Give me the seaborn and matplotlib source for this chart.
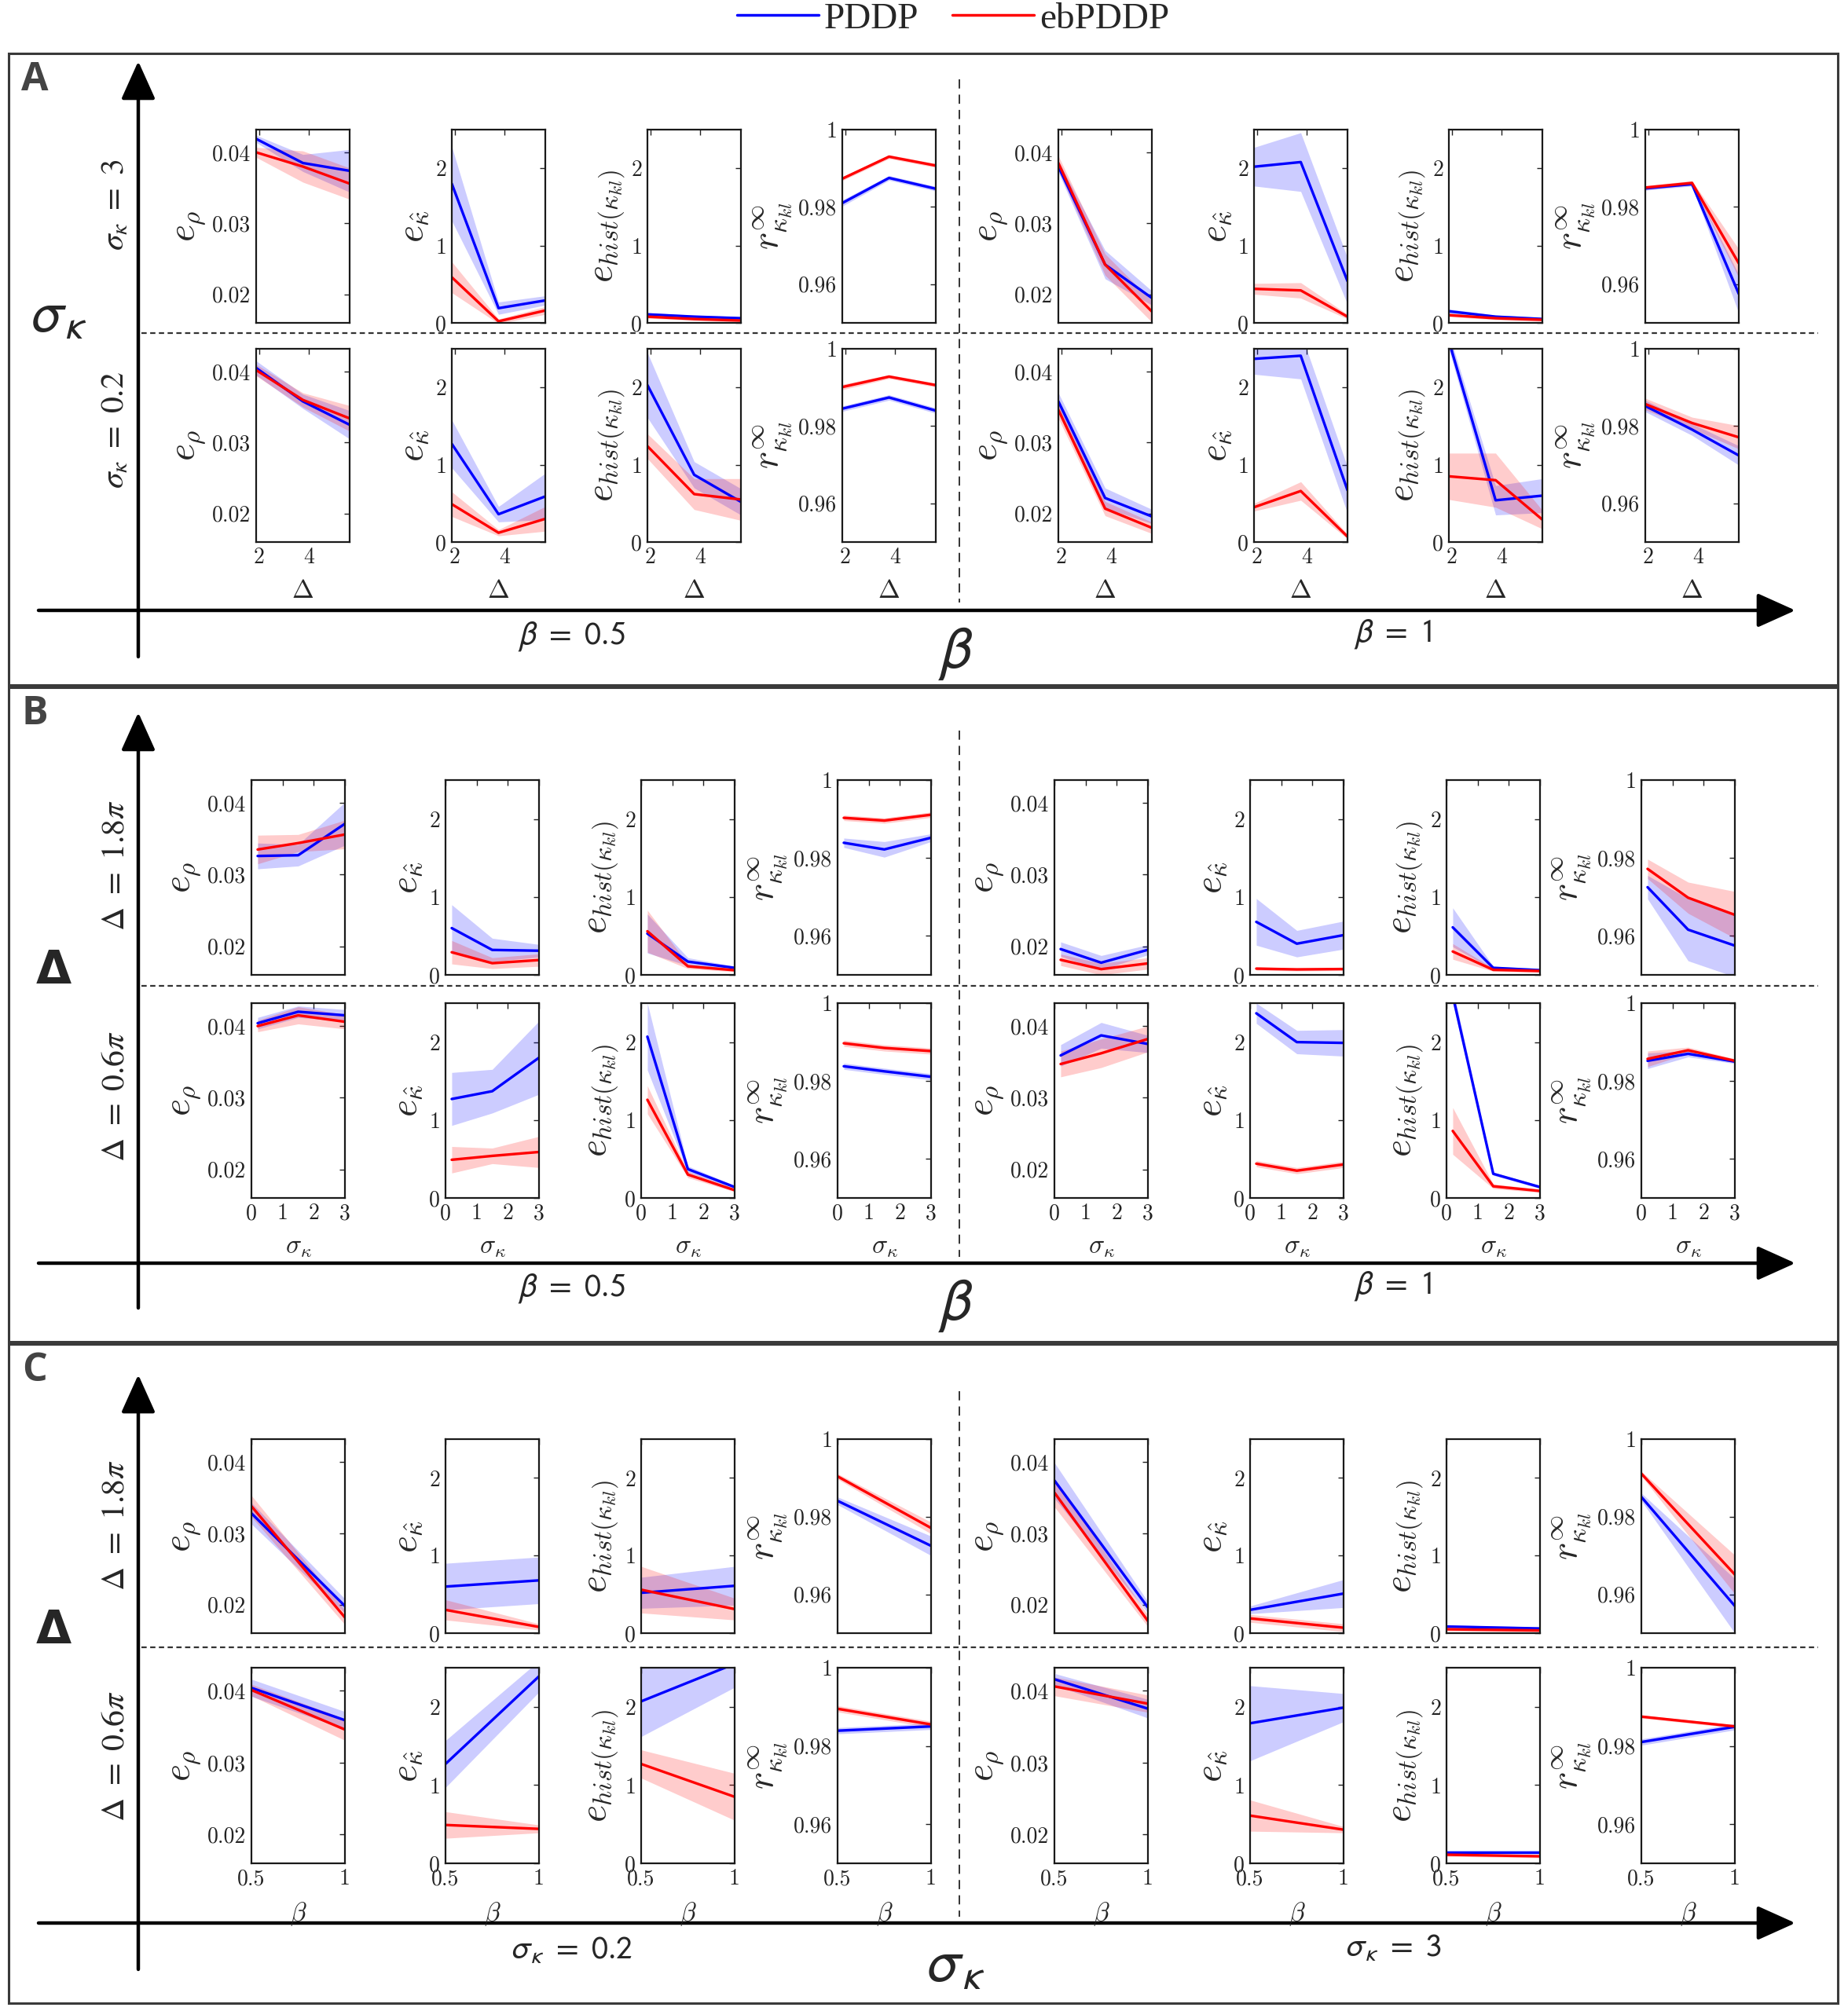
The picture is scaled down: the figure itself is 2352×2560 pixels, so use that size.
import matplotlib
matplotlib.use("Agg")
import matplotlib.pyplot as plt
from matplotlib.lines import Line2D
from matplotlib.patches import Rectangle
import numpy as np
import pandas as pd
import seaborn as sns

sns.set_theme(style="white")
plt.rcParams["font.family"] = ["Liberation Serif", "DejaVu Serif"]
plt.rcParams["mathtext.fontset"] = "cm"

# ---- x values of the three panels ----
DELTA_X = [0.6 * np.pi, 1.2 * np.pi, 1.8 * np.pi]
SIGMA_X = [0.2, 1.5, 3.0]
BETA_X = [0.5, 1.0]

# every list holds 4 subplots: top-left, top-right, bottom-left, bottom-right
# ---- panel A (x = Delta) ----
A_RHO_PDDP = [[0.0419, 0.0385, 0.0374], [0.0380, 0.0242, 0.0195], [0.0405, 0.0358, 0.0325], [0.0358, 0.0222, 0.0196]]
A_RHO_PDDP_ERR = [[0.0005, 0.0012, 0.0030], [0.0008, 0.0020, 0.0010], [0.0010, 0.0010, 0.0020], [0.0012, 0.0014, 0.0010]]
A_RHO_EB = [[0.0400, 0.0380, 0.0356], [0.0385, 0.0242, 0.0176], [0.0402, 0.0360, 0.0334], [0.0346, 0.0207, 0.0180]]
A_RHO_EB_ERR = [[0.0007, 0.0022, 0.0022], [0.0010, 0.0015, 0.0015], [0.0008, 0.0010, 0.0018], [0.0012, 0.0010, 0.0008]]

A_KAP_PDDP = [[1.80, 0.19, 0.29], [2.02, 2.08, 0.54], [1.27, 0.36, 0.59], [2.37, 2.41, 0.67]]
A_KAP_PDDP_ERR = [[0.48, 0.08, 0.06], [0.25, 0.38, 0.30], [0.31, 0.10, 0.30], [0.20, 0.30, 0.30]]
A_KAP_EB = [[0.59, 0.02, 0.16], [0.44, 0.42, 0.08], [0.49, 0.12, 0.30], [0.45, 0.66, 0.07]]
A_KAP_EB_ERR = [[0.20, 0.03, 0.05], [0.07, 0.10, 0.03], [0.16, 0.04, 0.16], [0.05, 0.12, 0.03]]

A_HIST_PDDP = [[0.11, 0.08, 0.06], [0.15, 0.08, 0.05], [2.03, 0.87, 0.52], [2.60, 0.54, 0.60]]
A_HIST_PDDP_ERR = [[0.02, 0.02, 0.02], [0.03, 0.02, 0.02], [0.42, 0.17, 0.17], [0.10, 0.19, 0.22]]
A_HIST_EB = [[0.08, 0.05, 0.03], [0.10, 0.06, 0.04], [1.24, 0.62, 0.55], [0.85, 0.80, 0.29]]
A_HIST_EB_ERR = [[0.02, 0.02, 0.02], [0.02, 0.02, 0.02], [0.16, 0.20, 0.27], [0.30, 0.35, 0.12]]

A_R_PDDP = [[0.9810, 0.9875, 0.9847], [0.9848, 0.9859, 0.9575], [0.9845, 0.9874, 0.9840], [0.9852, 0.9791, 0.9724]]
A_R_PDDP_ERR = [[0.0008, 0.0006, 0.0006], [0.0005, 0.0005, 0.0050], [0.0007, 0.0007, 0.0007], [0.0015, 0.0015, 0.0025]]
A_R_EB = [[0.9873, 0.9930, 0.9907], [0.9850, 0.9862, 0.9654], [0.9901, 0.9928, 0.9906], [0.9857, 0.9808, 0.9771]]
A_R_EB_ERR = [[0.0005, 0.0005, 0.0005], [0.0005, 0.0006, 0.0037], [0.0007, 0.0005, 0.0005], [0.0015, 0.0015, 0.0030]]

# ---- panel B (x = sigma_kappa) ----
B_RHO_PDDP = [[0.0326, 0.0327, 0.0371], [0.0196, 0.0177, 0.0195], [0.0404, 0.0420, 0.0415], [0.0359, 0.0387, 0.0375]]
B_RHO_PDDP_ERR = [[0.0018, 0.0015, 0.0030], [0.0010, 0.0010, 0.0007], [0.0008, 0.0008, 0.0008], [0.0015, 0.0018, 0.0012]]
B_RHO_EB = [[0.0335, 0.0344, 0.0356], [0.0181, 0.0168, 0.0176], [0.0400, 0.0415, 0.0406], [0.0347, 0.0362, 0.0382]]
B_RHO_EB_ERR = [[0.0020, 0.0012, 0.0020], [0.0008, 0.0008, 0.0008], [0.0008, 0.0012, 0.0010], [0.0018, 0.0020, 0.0018]]

B_KAP_PDDP = [[0.60, 0.32, 0.31], [0.68, 0.40, 0.51], [1.27, 1.37, 1.80], [2.37, 2.00, 1.99]]
B_KAP_PDDP_ERR = [[0.30, 0.15, 0.08], [0.30, 0.17, 0.18], [0.34, 0.28, 0.47], [0.13, 0.15, 0.17]]
B_KAP_EB = [[0.29, 0.15, 0.19], [0.08, 0.07, 0.075], [0.49, 0.54, 0.59], [0.44, 0.35, 0.43]]
B_KAP_EB_ERR = [[0.15, 0.07, 0.08], [0.02, 0.02, 0.02], [0.17, 0.10, 0.20], [0.04, 0.04, 0.04]]

B_HIST_PDDP = [[0.53, 0.17, 0.09], [0.61, 0.09, 0.06], [2.07, 0.37, 0.14], [2.60, 0.31, 0.14]]
B_HIST_PDDP_ERR = [[0.25, 0.05, 0.02], [0.25, 0.02, 0.02], [0.43, 0.04, 0.02], [0.10, 0.02, 0.02]]
B_HIST_EB = [[0.56, 0.11, 0.06], [0.30, 0.065, 0.05], [1.26, 0.30, 0.10], [0.86, 0.15, 0.09]]
B_HIST_EB_ERR = [[0.27, 0.03, 0.02], [0.10, 0.02, 0.02], [0.18, 0.04, 0.02], [0.30, 0.03, 0.02]]

B_R_PDDP = [[0.9839, 0.9822, 0.9852], [0.9725, 0.9616, 0.9575], [0.9838, 0.9825, 0.9811], [0.9852, 0.9870, 0.9850]]
B_R_PDDP_ERR = [[0.0012, 0.0020, 0.0010], [0.0030, 0.0080, 0.0080], [0.0008, 0.0008, 0.0008], [0.0020, 0.0008, 0.0005]]
B_R_EB = [[0.9903, 0.9896, 0.9911], [0.9772, 0.9698, 0.9654], [0.9897, 0.9885, 0.9877], [0.9857, 0.9879, 0.9852]]
B_R_EB_ERR = [[0.0007, 0.0007, 0.0007], [0.0025, 0.0040, 0.0060], [0.0008, 0.0008, 0.0008], [0.0020, 0.0008, 0.0005]]

# ---- panel C (x = beta) ----
C_RHO_PDDP = [[0.0328, 0.0198], [0.0374, 0.0196], [0.0404, 0.0359], [0.0416, 0.0375]]
C_RHO_PDDP_ERR = [[0.0015, 0.0010], [0.0025, 0.0008], [0.0012, 0.0012], [0.0008, 0.0013]]
C_RHO_EB = [[0.0338, 0.0182], [0.0357, 0.0177], [0.0401, 0.0346], [0.0406, 0.0382]]
C_RHO_EB_ERR = [[0.0015, 0.0010], [0.0020, 0.0008], [0.0008, 0.0015], [0.0013, 0.0012]]

C_KAP_PDDP = [[0.60, 0.68], [0.30, 0.51], [1.27, 2.39], [1.79, 1.99]]
C_KAP_PDDP_ERR = [[0.30, 0.30], [0.05, 0.18], [0.30, 0.20], [0.48, 0.18]]
C_KAP_EB = [[0.30, 0.08], [0.19, 0.07], [0.49, 0.44], [0.61, 0.43]]
C_KAP_EB_ERR = [[0.13, 0.04], [0.05, 0.05], [0.17, 0.05], [0.20, 0.04]]

C_HIST_PDDP = [[0.52, 0.61], [0.085, 0.06], [2.07, 2.55], [0.14, 0.14]]
C_HIST_PDDP_ERR = [[0.20, 0.25], [0.02, 0.02], [0.45, 0.30], [0.02, 0.02]]
C_HIST_EB = [[0.56, 0.31], [0.05, 0.035], [1.27, 0.85], [0.11, 0.09]]
C_HIST_EB_ERR = [[0.30, 0.14], [0.02, 0.02], [0.18, 0.30], [0.02, 0.02]]

C_R_PDDP = [[0.9841, 0.9725], [0.9851, 0.9570], [0.9839, 0.9850], [0.9810, 0.9849]]
C_R_PDDP_ERR = [[0.0010, 0.0025], [0.0010, 0.0070], [0.0008, 0.0008], [0.0008, 0.0008]]
C_R_EB = [[0.9904, 0.9771], [0.9911, 0.9651], [0.9895, 0.9855], [0.9875, 0.9850]]
C_R_EB_ERR = [[0.0007, 0.0015], [0.0006, 0.0050], [0.0008, 0.0008], [0.0004, 0.0004]]

METRIC_LABELS = [r"$e_{\rho}$", r"$e_{\hat{\kappa}}$", r"$e_{hist(\kappa_{kl})}$", r"$r_{\kappa_{kl}}^{\infty}$"]
METRIC_YTICKS = [[0.02, 0.03, 0.04], [0, 1, 2], [0, 1, 2], [0.96, 0.98, 1.0]]
METRIC_YTICKLABELS = [["0.02", "0.03", "0.04"], ["0", "1", "2"], ["0", "1", "2"], ["0.96", "0.98", "1"]]
METRIC_YLIM = [(0.016, 0.0432), (0, 2.5), (0, 2.5), (0.95, 1.0)]

PANELS = {
    "A": dict(x=DELTA_X, xlim=(0.6 * np.pi, 1.8 * np.pi), xticks=[2, 4], xticklabels=["2", "4"], xlabel=r"$\Delta$",
              pddp=[A_RHO_PDDP, A_KAP_PDDP, A_HIST_PDDP, A_R_PDDP],
              pddp_err=[A_RHO_PDDP_ERR, A_KAP_PDDP_ERR, A_HIST_PDDP_ERR, A_R_PDDP_ERR],
              eb=[A_RHO_EB, A_KAP_EB, A_HIST_EB, A_R_EB],
              eb_err=[A_RHO_EB_ERR, A_KAP_EB_ERR, A_HIST_EB_ERR, A_R_EB_ERR]),
    "B": dict(x=SIGMA_X, xlim=(0, 3), xticks=[0, 1, 2, 3], xticklabels=["0", "1", "2", "3"], xlabel=r"$\sigma_{\kappa}$",
              pddp=[B_RHO_PDDP, B_KAP_PDDP, B_HIST_PDDP, B_R_PDDP],
              pddp_err=[B_RHO_PDDP_ERR, B_KAP_PDDP_ERR, B_HIST_PDDP_ERR, B_R_PDDP_ERR],
              eb=[B_RHO_EB, B_KAP_EB, B_HIST_EB, B_R_EB],
              eb_err=[B_RHO_EB_ERR, B_KAP_EB_ERR, B_HIST_EB_ERR, B_R_EB_ERR]),
    "C": dict(x=BETA_X, xlim=(0.5, 1.0), xticks=[0.5, 1.0], xticklabels=["0.5", "1"], xlabel=r"$\beta$",
              pddp=[C_RHO_PDDP, C_KAP_PDDP, C_HIST_PDDP, C_R_PDDP],
              pddp_err=[C_RHO_PDDP_ERR, C_KAP_PDDP_ERR, C_HIST_PDDP_ERR, C_R_PDDP_ERR],
              eb=[C_RHO_EB, C_KAP_EB, C_HIST_EB, C_R_EB],
              eb_err=[C_RHO_EB_ERR, C_KAP_EB_ERR, C_HIST_EB_ERR, C_R_EB_ERR]),
}

# ---- layout in pixels of the 2352x2560 canvas ----
W, H = 2352, 2560
COLS = {"A": [326, 575, 824, 1072, 1347, 1596, 1844, 2094],
        "B": [320, 567, 816, 1066, 1342, 1591, 1841, 2089],
        "C": [320, 567, 816, 1066, 1342, 1591, 1841, 2089]}
AX_W = 119
ROWS = {"A": [(165, 411), (444, 690)], "B": [(993, 1241), (1277, 1525)], "C": [(1832, 2079), (2123, 2372)]}

fig = plt.figure(figsize=(W / 100, H / 100), dpi=100)

# overlay in pixel coordinates for the frames, arrows and labels
ov = fig.add_axes([0, 0, 1, 1])
ov.set_xlim(0, W)
ov.set_ylim(H, 0)
ov.axis("off")

FRAMES = {"A": (68, 872), "B": (875, 1708), "C": (1711, 2550)}
ARROW_Y = {"A": (777, 836, 78), "B": (1608, 1665, 907), "C": (2448, 2507, 1750)}
SEP = {"A": (101, 767, 424), "B": (930, 1600, 1255), "C": (1771, 2440, 2097)}

for p in "ABC":
    top, bot = FRAMES[p]
    ov.add_patch(Rectangle((11, top), 2328, bot - top, fill=False, ec="#3a3a3a", lw=2.2))
    hy, vb, vt = ARROW_Y[p]
    ov.annotate("", xy=(2285, hy), xytext=(49, hy),
                arrowprops=dict(arrowstyle="-|>,head_length=1.0,head_width=0.45", lw=3.2, color="black",
                                mutation_scale=30, shrinkA=0, shrinkB=0))
    ov.annotate("", xy=(176, vt), xytext=(176, vb),
                arrowprops=dict(arrowstyle="-|>,head_length=1.0,head_width=0.45", lw=3.2, color="black",
                                mutation_scale=30, shrinkA=0, shrinkB=0))
    s0, s1, sy = SEP[p]
    ov.plot([1221, 1221], [s0, s1], color="#333333", lw=1.4, ls=(0, (6, 4)))
    ov.plot([180, 2314], [sy, sy], color="#333333", lw=1.6, ls=(0, (3, 2)))
    ov.text(44, top + 34, p, fontsize=36, fontweight="bold", family="Open Sans", color="#444444",
            ha="center", va="center")

ROW_LABELS = {"A": [r"$\sigma_{\kappa}\ =\ 3$", r"$\sigma_{\kappa}\ =\ 0.2$"],
              "B": [r"$\Delta\ =\ 1.8\pi$", r"$\Delta\ =\ 0.6\pi$"],
              "C": [r"$\Delta\ =\ 1.8\pi$", r"$\Delta\ =\ 0.6\pi$"]}
ROW_LABEL_Y = {"A": [261, 547], "B": [1102, 1396], "C": [1942, 2236]}
SIDE_LABEL = {"A": (r"$\sigma_{\kappa}$", 405), "B": ("Δ", 1236), "C": ("Δ", 2076)}
BOTTOM = {"A": ([r"$\beta\ =\ 0.5$", r"$\beta\ =\ 1$"], r"$\beta$", 810),
          "B": ([r"$\beta\ =\ 0.5$", r"$\beta\ =\ 1$"], r"$\beta$", 1640),
          "C": ([r"$\sigma_{\kappa}\ =\ 0.2$", r"$\sigma_{\kappa}\ =\ 3$"], r"$\sigma_{\kappa}$", 2483)}

for p in "ABC":
    for lab, y in zip(ROW_LABELS[p], ROW_LABEL_Y[p]):
        ov.text(147, y, lab, rotation=90, fontsize=30, ha="center", va="center", math_fontfamily="stix")
    side, sy = SIDE_LABEL[p]
    if side == "Δ":
        ov.text(68, sy, side, fontsize=42, fontweight="bold", family="DejaVu Sans", ha="center", va="center")
    else:
        ov.text(74, sy, side, fontsize=52, ha="center", va="center", math_fontfamily="stixsans")
    labs, big, by = BOTTOM[p]
    ov.text(728, by, labs[0], fontsize=30, ha="center", va="center", math_fontfamily="stixsans")
    ov.text(1773, by - 3, labs[1], fontsize=30, ha="center", va="center", math_fontfamily="stixsans")
    ov.text(1216, by + 22, big, fontsize=54, ha="center", va="center", math_fontfamily="stixsans")


def draw_series(ax, x, mean, err, color):
    m = np.asarray(mean, dtype=float)
    e = np.asarray(err, dtype=float)
    ax.fill_between(x, m - e, m + e, color=color, alpha=0.2, linewidth=0)


for p in "ABC":
    cfg = PANELS[p]
    x = np.asarray(cfg["x"], dtype=float)
    for r, (ytop, ybot) in enumerate(ROWS[p]):
        for c in range(8):
            half, m = divmod(c, 4)
            k = r * 2 + half
            left = COLS[p][c]
            ax = fig.add_axes([left / W, 1 - ybot / H, AX_W / W, (ybot - ytop) / H])
            ax.set_facecolor("white")

            pd_mean = cfg["pddp"][m][k]
            eb_mean = cfg["eb"][m][k]
            draw_series(ax, x, pd_mean, cfg["pddp_err"][m][k], "#0000ff")
            draw_series(ax, x, eb_mean, cfg["eb_err"][m][k], "#ff0000")
            df = pd.DataFrame({"x": np.concatenate([x, x]),
                               "y": np.concatenate([pd_mean, eb_mean]),
                               "method": ["PDDP"] * len(x) + ["ebPDDP"] * len(x)})
            sns.lineplot(data=df, x="x", y="y", hue="method", palette={"PDDP": "#0000ff", "ebPDDP": "#ff0000"},
                         linewidth=2.4, legend=False, ax=ax)

            ax.set_xlim(cfg["xlim"])
            ax.set_ylim(METRIC_YLIM[m])
            ax.set_yticks(METRIC_YTICKS[m], METRIC_YTICKLABELS[m], fontfamily="cmr10", fontsize=20)
            ax.set_xticks(cfg["xticks"], cfg["xticklabels"], fontfamily="cmr10", fontsize=20)
            ax.tick_params(direction="in", top=True, right=True, length=5, width=1.0, pad=5,
                           colors="#222222")
            if r == 0:
                ax.set_xticklabels([])
                ax.set_xlabel("")
            else:
                ax.set_xlabel(cfg["xlabel"], fontsize=24, labelpad=10)
            ax.set_ylabel(METRIC_LABELS[m], fontsize=34, labelpad=4)
            for s in ax.spines.values():
                s.set_linewidth(1.6)
                s.set_color("#1a1a1a")
                s.set_visible(True)

handles = [Line2D([], [], color="#0000ff", lw=2.5), Line2D([], [], color="#ff0000", lw=2.5)]
fig.legend(handles, ["PDDP", "ebPDDP"], loc="center", bbox_to_anchor=(1213 / W, 1 - 24 / H), ncol=2,
           frameon=False, prop={"family": "Liberation Serif", "size": 34}, handlelength=2.2,
           handletextpad=0.15, columnspacing=0.9)

fig.savefig("out.png", dpi=100, facecolor="white")
